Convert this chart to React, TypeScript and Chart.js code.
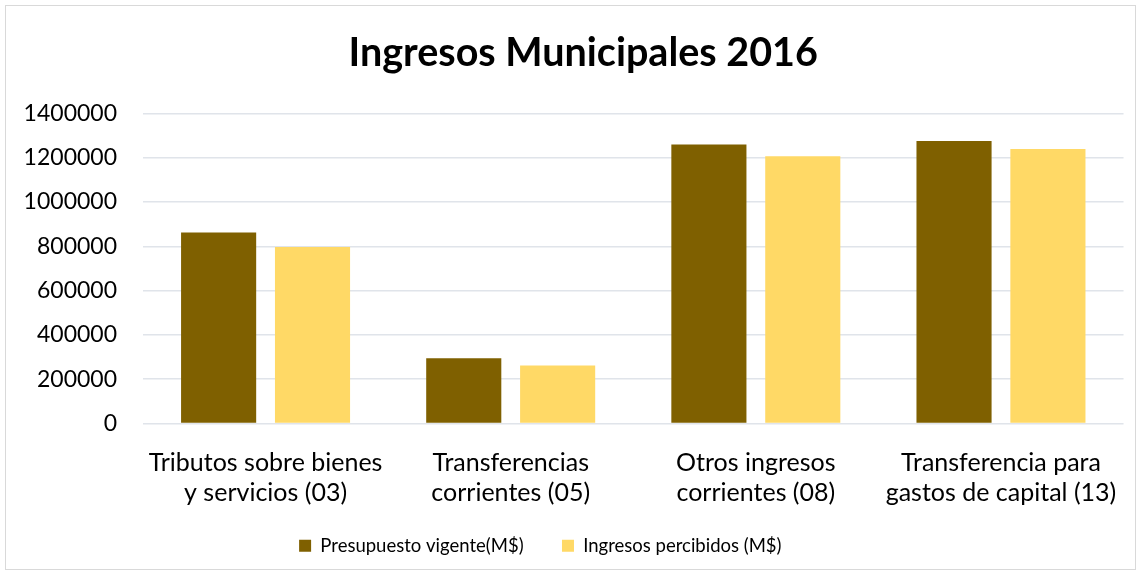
import React, { useEffect, useRef } from "react";
import { Chart, registerables } from "chart.js";

Chart.register(...registerables);

const categories: string[][] = [
  ["Tributos sobre bienes", "y servicios (03)"],
  ["Transferencias", "corrientes (05)"],
  ["Otros ingresos", "corrientes (08)"],
  ["Transferencia para", "gastos de capital (13)"],
];
const presupuesto: number[] = [862000, 295000, 1260000, 1275000];
const percibidos: number[] = [797000, 262000, 1207000, 1239000];
const seriesNames: string[] = ["Presupuesto vigente(M$)", "Ingresos percibidos (M$)"];
const yTicks: number[] = [0, 200000, 400000, 600000, 800000, 1000000, 1200000, 1400000];
const titleText = "Ingresos Municipales 2016";

const FONT = "Lato, 'Open Sans', sans-serif";

export default function App() {
  const ref = useRef<HTMLCanvasElement | null>(null);
  useEffect(() => {
    if (!ref.current) return;
    const chart = new Chart(ref.current, {
      type: "bar",
      data: {
        labels: categories,
        datasets: [
          {
            label: seriesNames[0],
            data: presupuesto,
            backgroundColor: "#7F6000",
            categoryPercentage: 0.766,
            barPercentage: 0.8,
          },
          {
            label: seriesNames[1],
            data: percibidos,
            backgroundColor: "#FFD966",
            categoryPercentage: 0.766,
            barPercentage: 0.8,
          },
        ],
      },
      options: {
        animation: false,
        responsive: false,
        maintainAspectRatio: false,
        layout: { padding: { left: 0, right: 14, top: 0, bottom: 12 } },
        plugins: {
          title: {
            display: true,
            text: "    " + titleText,
            color: "#000000",
            font: { family: FONT, size: 39.5, weight: "bold", lineHeight: 1.2 },
            padding: { top: 30, bottom: 36 },
          },
          legend: {
            position: "bottom",
            labels: {
              color: "#000000",
              font: { family: FONT, size: 18.5 },
              boxWidth: 12,
              boxHeight: 12,
              padding: 10,
              generateLabels: (c: any) => {
                const base = Chart.defaults.plugins.legend.labels.generateLabels(c);
                return base.map((it: any, i: number) => ({
                  ...it,
                  text: i === 0 ? it.text + "      " : it.text + "          ",
                  lineWidth: 0,
                }));
              },
            },
          },
          tooltip: { enabled: false },
        },
        scales: {
          x: {
            grid: { display: false, drawTicks: false },
            border: { display: false },
            ticks: {
              color: "#000000",
              font: { family: FONT, size: 25, lineHeight: 1.2 },
              padding: 24,
              maxRotation: 0,
              autoSkip: false,
            },
            afterFit: (s: any) => {
              s.height = 103;
            },
          },
          y: {
            min: 0,
            max: 1400000,
            afterBuildTicks: (s: any) => {
              s.ticks = yTicks.map((v) => ({ value: v }));
            },
            grid: { color: "#E0E4EA", lineWidth: 1.5, drawTicks: false },
            border: { display: false },
            ticks: {
              color: "#000000",
              font: { family: FONT, size: 23 },
              padding: 26,
              callback: (v: any) => String(v),
            },
            afterFit: (s: any) => {
              s.width = 143;
            },
          },
        },
      },
    });
    return () => chart.destroy();
  }, []);
  return (
    <div style={{ position: "absolute", left: 0, top: 0, width: 1142, height: 577, background: "#fff" }}>
      <div
        style={{
          position: "absolute",
          left: 5,
          top: 5,
          width: 1131,
          height: 565,
          border: "1px solid #D9D9D9",
          boxSizing: "border-box",
        }}
      />
      <canvas ref={ref} width={1142} height={577} style={{ position: "absolute", left: 0, top: 0 }} />
    </div>
  );
}
